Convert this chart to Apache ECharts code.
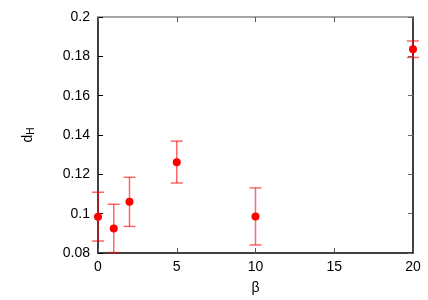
<!DOCTYPE html>
<html>
<head>
<meta charset="utf-8">
<script src="https://cdn.jsdelivr.net/npm/echarts@6/dist/echarts.min.js"></script>
<style>html,body{margin:0;padding:0;background:#fff}#c{width:428px;height:300px}</style>
</head>
<body>
<div id="c"></div>
<script>
const betaValues = [0, 1, 2, 5, 10, 20];
const dHValues = [0.0984, 0.0925, 0.106, 0.1262, 0.0986, 0.1836];
const dHLow = [0.0861, 0.0802, 0.0935, 0.1156, 0.0841, 0.1794];
const dHHigh = [0.1109, 0.1048, 0.1185, 0.1369, 0.1131, 0.1878];

const font = 'Liberation Sans';
const chart = echarts.init(document.getElementById('c'), null, {renderer: 'canvas'});

const points = betaValues.map((b, i) => [b, dHValues[i]]);
const bars = betaValues.map((b, i) => [b, dHLow[i], dHHigh[i]]);

chart.setOption({
  animation: false,
  backgroundColor: '#fff',
  grid: {left: 98, right: 15, top: 17, bottom: 46},
  xAxis: [{
    type: 'value', min: 0, max: 20, interval: 5,
    name: 'β', nameLocation: 'middle', nameGap: 28,
    nameTextStyle: {fontFamily: font, fontSize: 14, color: '#000'},
    axisLine: {show: true, onZero: false, lineStyle: {color: '#000', width: 1.5}},
    axisTick: {show: true, inside: true, length: 5, lineStyle: {color: '#555'}},
    axisLabel: {fontFamily: font, fontSize: 14, color: '#000', margin: 7},
    splitLine: {show: false}
  }, {
    type: 'value', position: 'top', min: 0, max: 20, interval: 5,
    axisLine: {show: true, onZero: false, lineStyle: {color: '#888', width: 1.5}},
    axisTick: {show: true, inside: true, length: 5, lineStyle: {color: '#555'}},
    axisLabel: {show: false}, splitLine: {show: false}
  }],
  yAxis: [{
    type: 'value', min: 0.08, max: 0.2, interval: 0.02,
    name: '{d|d}{h|H}', nameLocation: 'middle', nameGap: 62, nameRotate: 90,
    nameTextStyle: {
      fontFamily: font, fontSize: 14, color: '#000',
      rich: {d: {fontFamily: font, fontSize: 14, color: '#000'}, h: {fontFamily: font, fontSize: 10, color: '#000', verticalAlign: 'bottom', padding: [6, 0, 0, 0]}}
    },
    axisLine: {show: true, onZero: false, lineStyle: {color: '#000', width: 1.5}},
    axisTick: {show: true, inside: true, length: 5, lineStyle: {color: '#000'}},
    axisLabel: {fontFamily: font, fontSize: 14, color: '#000', margin: 8},
    splitLine: {show: false}
  }, {
    type: 'value', position: 'right', min: 0.08, max: 0.2, interval: 0.02,
    axisLine: {show: true, onZero: false, lineStyle: {color: '#000', width: 1.5}},
    axisTick: {show: true, inside: true, length: 5, lineStyle: {color: '#666'}},
    axisLabel: {show: false}, splitLine: {show: false}
  }],
  series: [{
    type: 'custom',
    clip: false,
    data: bars,
    renderItem: function (params, api) {
      const x = api.value(0);
      const lo = api.coord([x, api.value(1)]);
      const hi = api.coord([x, api.value(2)]);
      const hw = 6;
      const style = {stroke: 'rgba(255,0,0,0.6)', lineWidth: 1.5, fill: null};
      return {
        type: 'group',
        children: [
          {type: 'line', shape: {x1: lo[0], y1: lo[1], x2: hi[0], y2: hi[1]}, style: style},
          {type: 'line', shape: {x1: lo[0] - hw, y1: lo[1], x2: lo[0] + hw, y2: lo[1]}, style: style},
          {type: 'line', shape: {x1: hi[0] - hw, y1: hi[1], x2: hi[0] + hw, y2: hi[1]}, style: style}
        ]
      };
    },
    z: 2
  }, {
    type: 'scatter',
    data: points,
    symbol: 'circle',
    symbolSize: 8,
    itemStyle: {color: '#ff0000', opacity: 1},
    clip: false,
    z: 3
  }]
});
</script>
</body>
</html>
